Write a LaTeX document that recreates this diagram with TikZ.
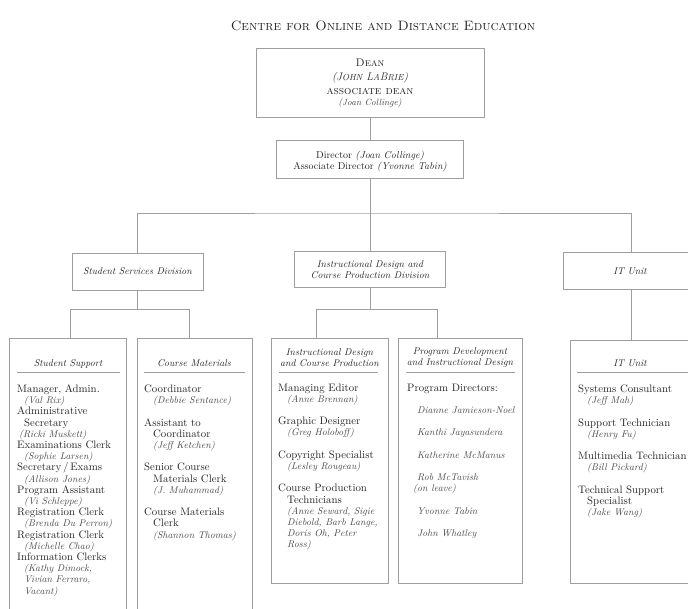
\documentclass[tikz,border=0pt]{standalone}
\usepackage{xcolor}
\definecolor{linec}{gray}{0.62}
\definecolor{txtc}{gray}{0.14}
\definecolor{namec}{gray}{0.28}
\newcommand\pname[1]{{\fontsize{9.8}{11.2}\selectfont\itshape\color{namec}#1}}
\newcommand\indA{\hspace*{7pt}}
\newcommand\indB{\hspace*{9pt}}
\tikzset{
  box/.style={draw=linec, line width=0.6pt, inner sep=0pt},
  conn/.style={draw=linec, line width=0.6pt},
  hrule/.style={draw=linec, line width=1pt},
  bodytext/.style={anchor=base west, inner sep=0pt, text width=112pt, align=left,
    text=txtc, font=\fontsize{10.8}{11.2}\selectfont},
  headtext/.style={inner sep=0pt, align=center, text=txtc,
    font=\fontsize{9.8}{11}\selectfont\itshape},
  toptext/.style={inner sep=0pt, anchor=base, text=txtc},
}
\begin{document}
\begin{tikzpicture}[x=1pt,y=-1pt]
\useasboundingbox (0,0) rectangle (688,608);
\clip (0,0) rectangle (688,608);

% title
\node[toptext, font=\fontsize{13.6}{15}\selectfont] (title) at (383,30)
  {\textsc{Centre for Online and Distance Education}};

% Dean
\node[box, minimum width=228pt, minimum height=69pt] (dean) at (370,82.5) {};
\node[toptext, font=\fontsize{11}{12}\selectfont] (deanA) at (370,66) {\textsc{Dean}};
\node[toptext, font=\fontsize{11}{12}\selectfont\itshape] (deanB) at (370,80)
  {(J{\fontsize{8.8}{10}\selectfont OHN} L{\fontsize{8.8}{10}\selectfont A}B{\fontsize{8.8}{10}\selectfont RIE})};
\node[toptext, font=\fontsize{11.5}{12}\selectfont] (deanC) at (370,94) {\textsc{associate dean}};
\node[toptext, font=\fontsize{9}{10}\selectfont\itshape, text=namec] (deanD) at (370,105) {(Joan Collinge)};

% Director
\node[box, minimum width=187pt, minimum height=38pt] (dir) at (370,159) {};
\node[toptext, font=\fontsize{10}{11}\selectfont] (dirA) at (370,158)
  {Director \textit{(Joan Collinge)}};
\node[toptext, font=\fontsize{10}{11}\selectfont] (dirB) at (370,169)
  {Associate Director \textit{(Yvonne Tabin)}};

% Divisions
\node[box, minimum width=131pt, minimum height=37pt] (ssd) at (137.5,271.5) {};
\node[headtext, anchor=base] (ssdT) at (137.5,274.5) {Student Services Division};
\node[box, minimum width=151pt, minimum height=36pt] (idd) at (370,269) {};
\node[headtext, anchor=center] (iddT) at (370,269.5) {Instructional Design and\\Course Production Division};
\node[box, minimum width=136pt, minimum height=37pt] (itd) at (631,270.5) {};
\node[headtext, anchor=base] (itdT) at (630,274.5) {IT Unit};

% Unit boxes
\node[box, minimum width=116.5pt, minimum height=280pt] (ssb) at (67.75,478) {};
\node[box, minimum width=115pt, minimum height=280pt] (cmb) at (194.5,478) {};
\node[box, minimum width=117pt, minimum height=245pt] (idb) at (329.5,460.5) {};
\node[box, minimum width=124pt, minimum height=245pt] (pdb) at (460.5,460.5) {};
\node[box, minimum width=122pt, minimum height=243pt] (itb) at (631,461.5) {};

% connectors
\coordinate (hub1) at (370,213);
\coordinate (h2a) at (70,309);
\coordinate (h2b) at (189,309);
\coordinate (h3a) at (316,309);
\coordinate (h3b) at (437,309);
\draw[conn] (dean.south) -- (dir.north);
\draw[conn] (dir.south) -- (idd.north);
\draw[conn] (ssd.north) |- (hub1) -| (itd.north);
\draw[conn] (ssd.south) -- (ssd.south |- h2a);
\draw[conn] (h2a |- ssb.north) -- (h2a) -- (h2b) -- (h2b |- cmb.north);
\draw[conn] (idd.south) -- (idd.south |- h3a);
\draw[conn] (h3a |- idb.north) -- (h3a) -- (h3b) -- (h3b |- pdb.north);
\draw[conn] (itd.south) -- (itd.south |- itb.north);

% headers of unit boxes
\node[headtext, anchor=base] (ssH) at (68,366.5) {Student Support};
\node[headtext, anchor=base] (cmH) at (194,366.5) {Course Materials};
\node[headtext, anchor=center] (idH) at (329.5,357.5) {Instructional Design\\and Course Production};
\node[headtext, anchor=center] (pdH) at (460,357.5) {Program Development\\and Instructional Design};
\node[headtext, anchor=base] (itH) at (630,366.5) {IT Unit};
\draw[hrule] (17,372) -- (120,372);
\draw[hrule] (144,372) -- (245,372);
\draw[hrule] (279,372) -- (378,372);
\draw[hrule] (406,372) -- (515,372);
\draw[hrule] (577,372) -- (688,372);

% contents
\node[bodytext] (ssC) at (17,392.5) {%
Manager, Admin.\\
\indA\pname{(Val Rix)}\\
Administrative\\
\indA Secretary\\
\hspace*{2pt}\pname{(Ricki Muskett)}\\
Examinations Clerk\\
\indA\pname{(Sophie Larsen)}\\
Secretary\,/\,Exams\\
\indA\pname{(Allison Jones)}\\
Program Assistant\\
\indA\pname{(Vi Schleppe)}\\
Registration Clerk\\
\indA\pname{(Brenda Du Perron)}\\
Registration Clerk\\
\indA\pname{(Michelle Chao)}\\
Information Clerks\\
\indA\pname{(Kathy Dimock,}\\
\indA\pname{Vivian Ferraro,}\\
\indA\pname{Vacant)}};

\node[bodytext] (cmC) at (144,392.5) {%
Coordinator\\
\indB\pname{(Debbie Sentance)}\\[11.2pt]
Assistant to\\
\indB Coordinator\\
\indB\pname{(Jeff Ketchen)}\\[11.2pt]
Senior Course\\
\indB Materials Clerk\\
\indB\pname{(J. Muhammad)}\\[11.2pt]
Course Materials\\
\indB Clerk\\
\indB\pname{(Shannon Thomas)}};

\node[bodytext] (idC) at (278,391) {%
Managing Editor\\
\indB\pname{(Anne Brennan)}\\[11.2pt]
Graphic Designer\\
\indB\pname{(Greg Holoboff)}\\[11.2pt]
Copyright Specialist\\
\indB\pname{(Lesley Rougeau)}\\[11.2pt]
Course Production\\
\indB Technicians\\
\indB\pname{(Anne Seward, Sigie}\\
\indB\pname{Diebold, Barb Lange,}\\
\indB\pname{Doris Oh, Peter}\\
\indB\pname{Ross)}};

\node[bodytext] (pdC) at (407,391) {%
Program Directors:\\[11.2pt]
\hspace*{10pt}\pname{Dianne Jamieson-Noel}\\[11.2pt]
\hspace*{10pt}\pname{Kanthi Jayasundera}\\[11.2pt]
\hspace*{10pt}\pname{Katherine McManus}\\[11.2pt]
\hspace*{10pt}\pname{Rob McTavish}\\
\hspace*{6pt}\pname{(on leave)}\\[11.2pt]
\hspace*{10pt}\pname{Yvonne Tabin}\\[11.2pt]
\hspace*{10pt}\pname{John Whatley}};

\node[bodytext] (itC) at (578,392.5) {%
Systems Consultant\\
\indB\pname{(Jeff Mah)}\\[11.2pt]
Support Technician\\
\indB\pname{(Henry Fu)}\\[11.2pt]
Multimedia Technician\\
\indB\pname{(Bill Pickard)}\\[11.2pt]
Technical Support\\
\indB Specialist\\
\indB\pname{(Jake Wang)}};
\end{tikzpicture}
\end{document}
